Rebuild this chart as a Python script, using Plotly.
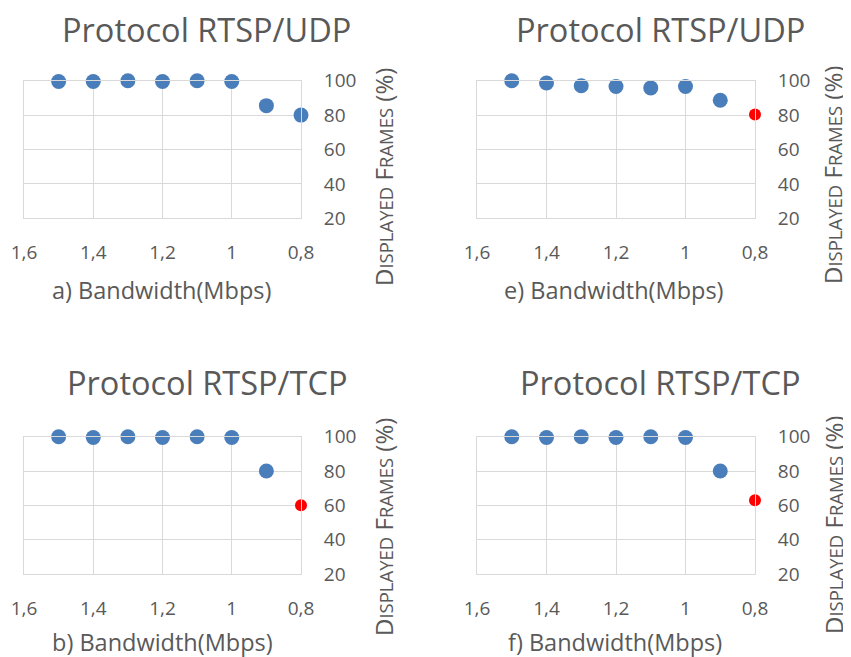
import plotly.graph_objects as go
from plotly.subplots import make_subplots

# Bandwidth levels (Mbps) and displayed frames (%) for each panel
bandwidth = [1.5, 1.4, 1.3, 1.2, 1.1, 1.0, 0.9, 0.8]
udp_a = [99.5, 99.5, 100, 99.5, 100, 99.5, 85.5, 80]
udp_e = [100, 98.7, 97.1, 96.6, 95.8, 96.6, 88.6, 80.4]
tcp_b = [100, 99.5, 100, 99.5, 100, 99.5, 80, 60]
tcp_f = [100, 99.5, 100, 99.5, 100, 99.5, 80, 63]

panel_titles = ["Protocol RTSP/UDP", "Protocol RTSP/UDP", "Protocol RTSP/TCP", "Protocol RTSP/TCP"]
x_titles = ["a) Bandwidth(Mbps)", "e) Bandwidth(Mbps)", "b) Bandwidth(Mbps)", "f) Bandwidth(Mbps)"]
x_tickvals = [1.6, 1.4, 1.2, 1.0, 0.8]
x_ticktext = ["1,6", "1,4", "1,2", "1", "0,8"]
y_tickvals = [20, 40, 60, 80, 100]

W, H = 851, 657
OFF = 8  # page body margin
BLUE = "#4A7EBB"
RED = "#FF0000"
GREY = "#595959"
FONT = "Open Sans"

def px(x):
    return (x - OFF) / W

def py(y):
    return 1 - (y - OFF) / H

# panel order: a (top-left), e (top-right), b (bottom-left), f (bottom-right)
series = [udp_a, udp_e, tcp_b, tcp_f]
highlight = [False, True, True, True]
x_domains = [(24, 301), (477, 755), (24, 301), (477, 755)]
y_domains = [(80.7, 218.3), (80.7, 218.3), (436.7, 574), (436.7, 574)]
title_pos = [(206, 29), (660, 29), (207, 382), (660, 382)]
xtitle_pos = [(161, 290), (614, 290), (162, 642), (615, 642)]
ytitle_pos = [(383, 177), (833, 175), (383, 527), (833, 525)]

fig = make_subplots(rows=2, cols=2)

small = "<span style='font-size:18.5px'>"
ytitle = f"D{small}ISPLAYED</span> F{small}RAMES</span> (%)"

for i, ys in enumerate(series):
    row, col = i // 2 + 1, i % 2 + 1
    colors = [BLUE] * (len(ys) - 1) + [RED if highlight[i] else BLUE]
    sizes = [15] * (len(ys) - 1) + [12 if highlight[i] else 15]
    fig.add_trace(go.Scatter(
        x=bandwidth, y=ys, mode="markers",
        marker=dict(color=colors, size=sizes, opacity=1, line=dict(width=0)),
        cliponaxis=False, showlegend=False,
    ), row=row, col=col)

    n = "" if i == 0 else str(i + 1)
    fig.layout["xaxis" + n].update(
        domain=[px(x_domains[i][0]), px(x_domains[i][1])],
        range=[1.6, 0.8], tickvals=x_tickvals, ticktext=x_ticktext,
        showgrid=True, gridcolor="#D9D9D9", gridwidth=1,
        showline=True, mirror=True, linecolor="#D9D9D9", linewidth=1,
        zeroline=False, ticks="", ticklabelstandoff=17, automargin=False,
        tickfont=dict(family=FONT, size=19, color=GREY),
    )
    fig.layout["yaxis" + n].update(
        domain=[py(y_domains[i][1]), py(y_domains[i][0])],
        range=[20, 100], tickvals=y_tickvals, side="right",
        showgrid=True, gridcolor="#D9D9D9", gridwidth=1,
        showline=True, mirror=True, linecolor="#D9D9D9", linewidth=1,
        zeroline=False, ticks="", ticklabelstandoff=18, automargin=False,
        tickfont=dict(family=FONT, size=19, color=GREY),
    )

    fig.add_annotation(text=panel_titles[i], x=px(title_pos[i][0]), y=py(title_pos[i][1]),
                       xref="paper", yref="paper", showarrow=False,
                       xanchor="center", yanchor="middle",
                       font=dict(family=FONT, size=32.5, color=GREY))
    fig.add_annotation(text=x_titles[i], x=px(xtitle_pos[i][0]), y=py(xtitle_pos[i][1]),
                       xref="paper", yref="paper", showarrow=False,
                       xanchor="center", yanchor="middle",
                       font=dict(family=FONT, size=23.5, color=GREY))
    fig.add_annotation(text=ytitle, x=px(ytitle_pos[i][0]), y=py(ytitle_pos[i][1]),
                       xref="paper", yref="paper", showarrow=False, textangle=-90,
                       xanchor="center", yanchor="middle",
                       font=dict(family=FONT, size=24, color=GREY))

fig.update_layout(
    width=W, height=H,
    margin=dict(l=0, r=0, t=0, b=0),
    plot_bgcolor="white", paper_bgcolor="white",
    font=dict(family=FONT, color=GREY),
)

fig.write_html("out.html")
